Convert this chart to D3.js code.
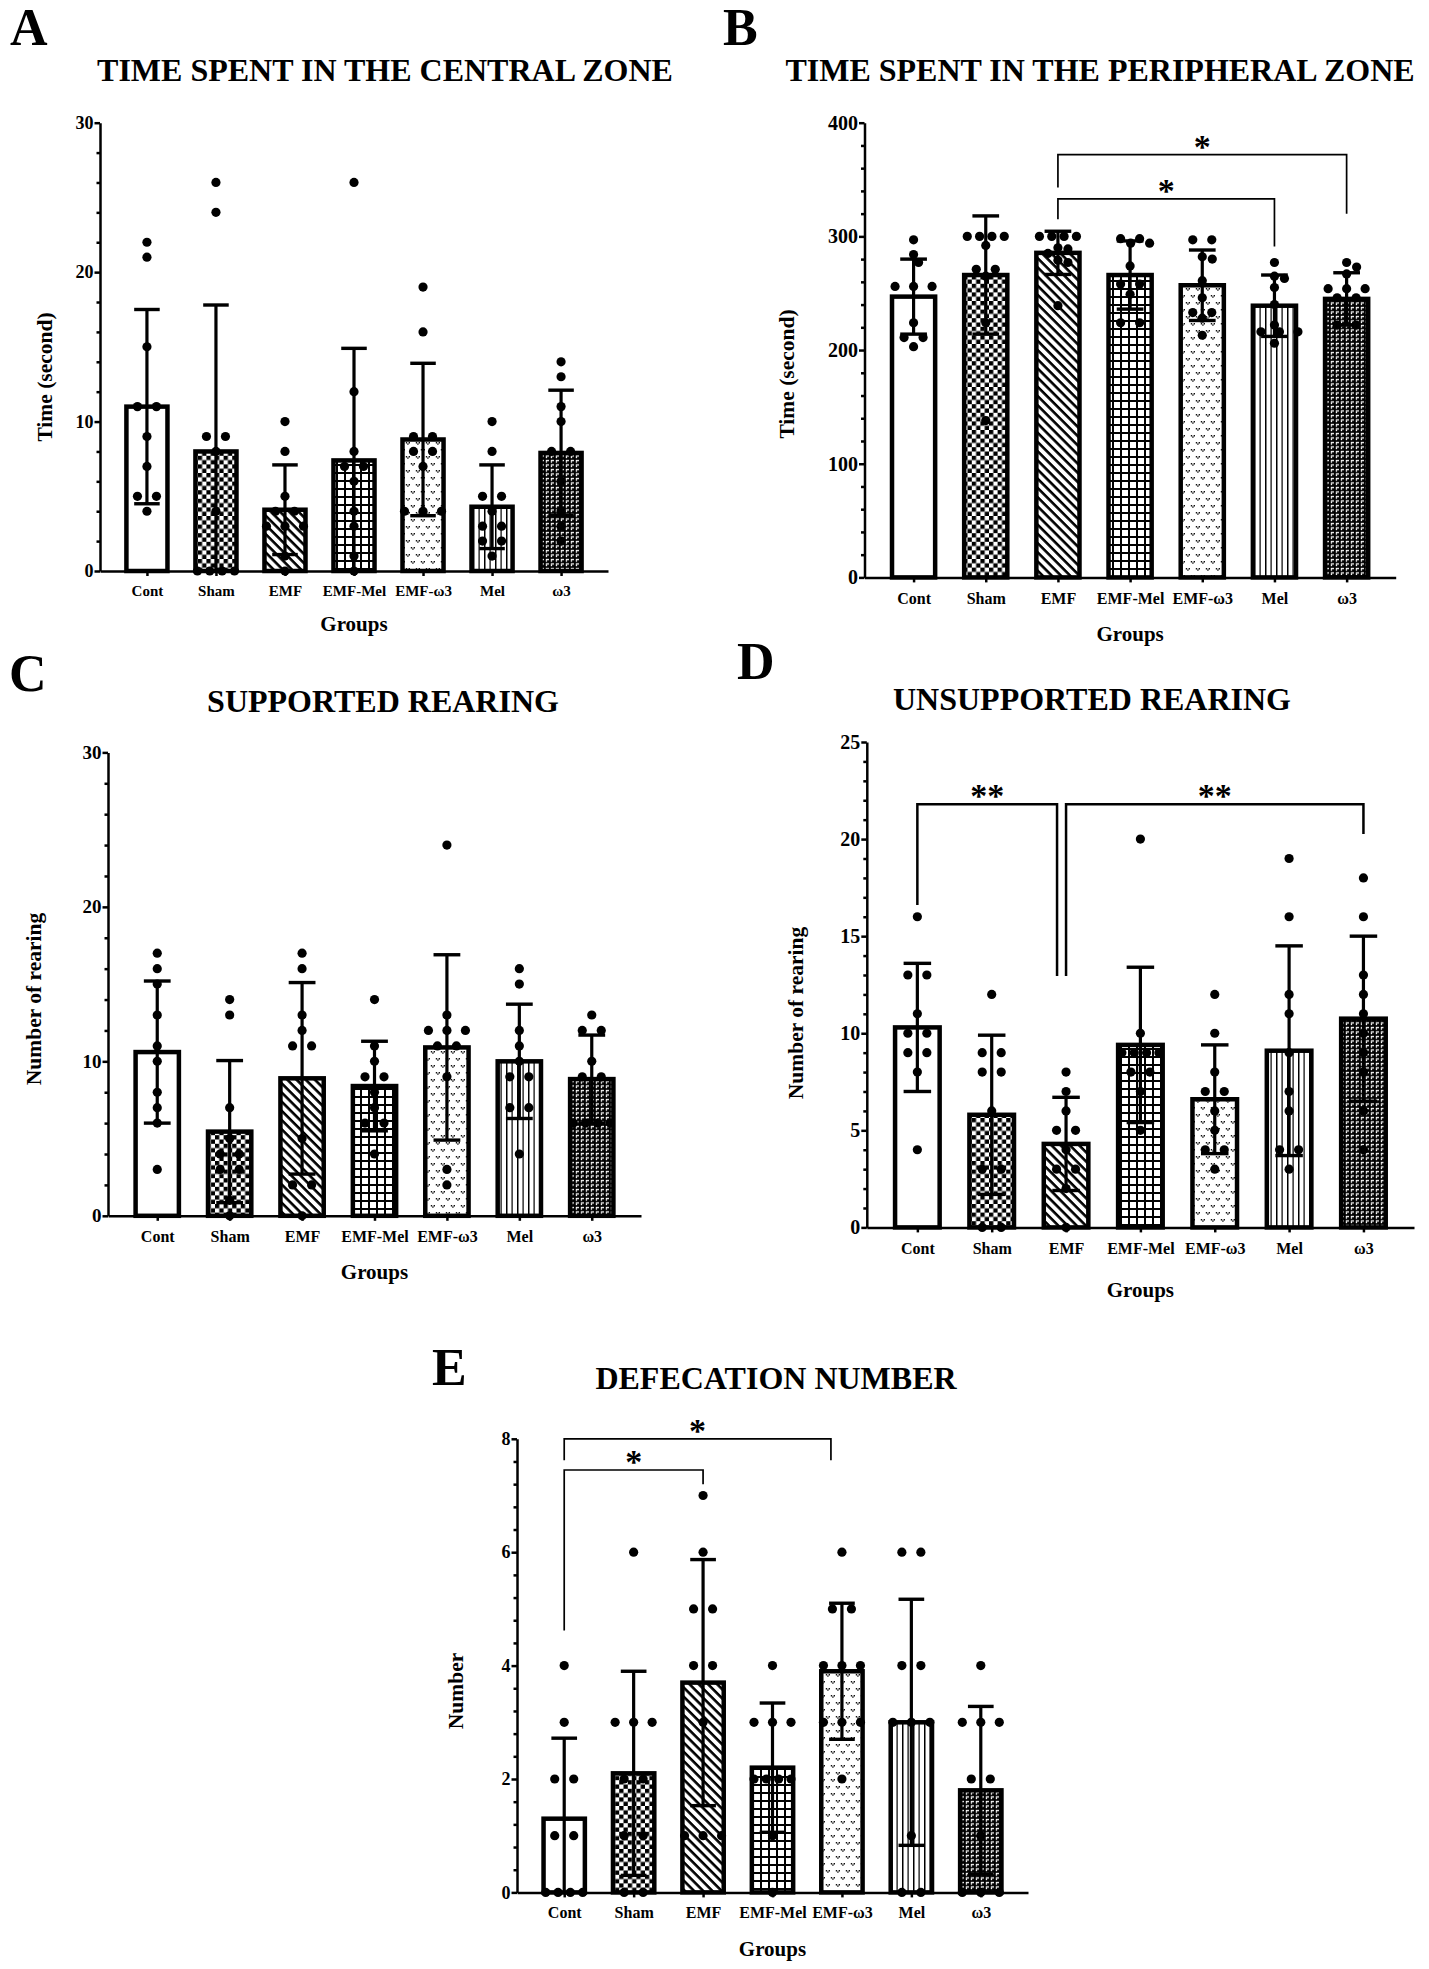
<!DOCTYPE html>
<html>
<head>
<meta charset="utf-8">
<script src="https://cdnjs.cloudflare.com/ajax/libs/d3/7.8.5/d3.min.js"></script>
<style>
  body { margin: 0; background: #fff; }
  text { font-family: "Liberation Serif", "Times New Roman", serif; font-weight: bold; fill: #000; }
</style>
</head>
<body>
<div id="chart-area"></div>
<script>
// groups on every x axis
const groups = ['Cont', 'Sham', 'EMF', 'EMF-Mel', 'EMF-ω3', 'Mel', 'ω3'];

// A - time in central zone
const centralMean = [11.0, 8.0, 4.1, 7.4, 8.8, 4.3, 7.9];
const centralSD = [6.5, 9.8, 3.0, 7.5, 5.1, 2.8, 4.2];
const centralPoints = [
  [22, 21, 15, 11, 11, 9, 7, 5, 5, 4],
  [26, 24, 9, 9, 8, 4, 0, 0, 0, 0],
  [10, 8, 5, 4, 4, 3, 3, 3, 1, 0],
  [26, 12, 8, 7, 7, 6, 4, 3, 1, 0],
  [19, 16, 9, 9, 8, 8, 7, 4, 4, 4],
  [10, 8, 5, 5, 4, 3, 3, 2, 2, 1],
  [14, 13, 11, 10, 8, 8, 6, 4, 3, 2]
];

// B - time in peripheral zone
const periMean = [247, 266, 285.5, 266, 257, 239, 245];
const periSD = [33, 52, 19, 30, 31, 27, 23];
const periPoints = [
  [297, 284, 277, 256, 256, 256, 224, 211, 211, 203],
  [300, 300, 300, 300, 292, 271, 271, 265, 224, 138],
  [300, 300, 300, 300, 290, 289, 285, 279, 277, 239],
  [298, 298, 294, 294, 274, 258, 258, 249, 224, 224],
  [297, 297, 282, 280, 261, 246, 233, 233, 228, 213],
  [277, 265, 263, 255, 240, 222, 216, 216, 216, 206],
  [277, 273, 267, 254, 254, 254, 246, 246, 222, 222]
];
const periSig = [
  {from: 'EMF', to: 'Mel', y: 333, yFrom: 315, yTo: 291, label: '*'},
  {from: 'EMF', to: 'ω3', y: 372, yFrom: 343, yTo: 320, label: '*'}
];

// C - supported rearing
const supMean = [10.6, 5.45, 8.9, 8.4, 10.9, 10.0, 8.85];
const supSD = [4.6, 4.6, 6.2, 2.9, 6.0, 3.7, 2.85];
const supPoints = [
  [17, 16, 15, 13, 11, 10, 8, 7, 6, 3],
  [14, 13, 7, 5, 4, 4, 3, 3, 1, 0],
  [17, 16, 13, 12, 11, 11, 5, 2, 2, 0],
  [14, 11, 10, 9, 9, 8, 7, 6, 6, 4],
  [24, 13, 12, 12, 12, 11, 11, 9, 3, 2],
  [16, 15, 12, 11, 10, 9, 9, 7, 7, 4],
  [13, 12, 12, 10, 9, 9, 6, 6, 6, 6]
];

// D - unsupported rearing
const unsupMean = [10.3, 5.8, 4.3, 9.4, 6.6, 9.1, 10.75];
const unsupSD = [3.3, 4.1, 2.4, 4.0, 2.8, 5.4, 4.25];
const unsupPoints = [
  [16, 13, 13, 11, 10, 10, 9, 9, 8, 4],
  [12, 9, 9, 8, 8, 6, 3, 3, 0, 0],
  [8, 7, 6, 5, 5, 4, 3, 3, 2, 0],
  [20, 10, 9, 9, 9, 9, 8, 8, 7, 5],
  [12, 10, 8, 7, 7, 6, 5, 4, 4, 3],
  [19, 16, 12, 11, 9, 7, 6, 4, 4, 3],
  [18, 16, 13, 12, 11, 10, 9, 8, 6, 4]
];
const unsupSig = [
  {from: 'Cont', to: 'EMF', y: 21.8, yFrom: 16.6, yTo: 12.95, label: '**', dxTo: -9},
  {from: 'EMF', to: 'ω3', y: 21.8, yFrom: 12.95, yTo: 20.26, label: '**'}
];

// E - defecation number
const defMean = [1.3, 2.1, 3.7, 2.2, 3.9, 3.0, 1.8];
const defSD = [1.42, 1.8, 2.17, 1.14, 1.2, 2.17, 1.48];
const defPoints = [
  [4, 3, 2, 2, 1, 1, 0, 0, 0, 0],
  [6, 3, 3, 3, 2, 2, 1, 1, 0, 0],
  [7, 6, 5, 5, 4, 4, 3, 1, 1, 1],
  [4, 3, 3, 3, 2, 2, 2, 2, 1, 0],
  [6, 5, 5, 4, 4, 4, 3, 3, 3, 2],
  [6, 6, 4, 4, 3, 3, 3, 1, 0, 0],
  [4, 3, 3, 3, 2, 2, 1, 0, 0, 0]
];
const defSig = [
  {from: 'Cont', to: 'EMF', y: 7.45, yFrom: 4.62, yTo: 7.2, label: '*'},
  {from: 'Cont', to: 'EMF-ω3', y: 8.0, yFrom: 7.62, yTo: 7.62, label: '*', dxTo: -11}
];

// panel setup (layout only)
const panels = [
  {letter: 'A', title: 'TIME SPENT IN THE CENTRAL ZONE', yLabel: 'Time (second)',
   mean: centralMean, sd: centralSD, points: centralPoints, sig: [],
   max: 30, major: 10, minor: 2,
   box: {x0: 100, x1: 608, y0: 571, y1: 122.7, lx: 10, ly: 45, tx: 385, ty: 81,
         ylx: 52, yly: 377, tickY: 596, groupsY: 631, tickFont: 18, xFont: 15, sigW: 1.7}},
  {letter: 'B', title: 'TIME SPENT IN THE PERIPHERAL ZONE', yLabel: 'Time (second)',
   mean: periMean, sd: periSD, points: periPoints, sig: periSig,
   max: 400, major: 100, minor: 20,
   box: {x0: 864.5, x1: 1395.7, y0: 577.4, y1: 122.7, lx: 723, ly: 45, tx: 1100, ty: 81,
         ylx: 794, yly: 374, tickY: 604, groupsY: 641, tickFont: 20, xFont: 16, sigW: 1.7}},
  {letter: 'C', title: 'SUPPORTED REARING', yLabel: 'Number of rearing',
   mean: supMean, sd: supSD, points: supPoints, sig: [],
   max: 30, major: 10, minor: 2,
   box: {x0: 108, x1: 641, y0: 1215.8, y1: 752.4, lx: 9, ly: 691, tx: 383, ty: 712,
         ylx: 41, yly: 999, tickY: 1242, groupsY: 1279, tickFont: 19, xFont: 16, sigW: 1.7}},
  {letter: 'D', title: 'UNSUPPORTED REARING', yLabel: 'Number of rearing',
   mean: unsupMean, sd: unsupSD, points: unsupPoints, sig: unsupSig,
   max: 25, major: 5, minor: 1,
   box: {x0: 866.8, x1: 1414, y0: 1227.4, y1: 742, lx: 737, ly: 679, tx: 1092, ty: 710,
         ylx: 803, yly: 1013, tickY: 1254, groupsY: 1297, tickFont: 20, xFont: 16, sigW: 2.5}},
  {letter: 'E', title: 'DEFECATION NUMBER', yLabel: 'Number',
   mean: defMean, sd: defSD, points: defPoints, sig: defSig,
   max: 8, major: 2, minor: 0.4,
   box: {x0: 517, x1: 1028, y0: 1892.4, y1: 1438.8, lx: 432, ly: 1385, tx: 776, ty: 1389,
         ylx: 463, yly: 1691, tickY: 1918, groupsY: 1956, tickFont: 18, xFont: 16, sigW: 1.7}}
];

const svg = d3.select('#chart-area')
  .append('svg')
  .attr('width', 1429)
  .attr('height', 1969)
  .style('display', 'block');

svg.append('rect').attr('width', 1429).attr('height', 1969).attr('fill', '#fff');

// fill patterns for each group
const defs = svg.append('defs');

function addPattern(id, w, h, draw, transform) {
  const p = defs.append('pattern')
    .attr('id', id)
    .attr('patternUnits', 'userSpaceOnUse')
    .attr('width', w)
    .attr('height', h);
  if (transform) p.attr('patternTransform', transform);
  p.append('rect').attr('width', w).attr('height', h).attr('fill', '#fff');
  draw(p);
}

addPattern('checker', 8.6, 8.6, p => {
  p.append('rect').attr('width', 4.3).attr('height', 4.3).attr('fill', '#000');
  p.append('rect').attr('x', 4.3).attr('y', 4.3).attr('width', 4.3).attr('height', 4.3).attr('fill', '#000');
});
addPattern('diag', 6.5, 6.5, p => {
  p.append('rect').attr('width', 6.5).attr('height', 2.6).attr('fill', '#000');
}, 'rotate(45)');
addPattern('grid', 8, 8, p => {
  p.append('rect').attr('width', 8).attr('height', 2).attr('fill', '#000');
  p.append('rect').attr('width', 2).attr('height', 8).attr('fill', '#000');
});
addPattern('chev', 10, 14, p => {
  [[0.8, 1], [5.8, 8]].forEach(([cx, cy]) => {
    p.append('path')
      .attr('d', `M${cx},${cy}h1.4v1.4h-1.4z M${cx + 2.8},${cy}h1.4v1.4h-1.4z M${cx + 1.4},${cy + 1.4}h1.4v1.4h-1.4z`)
      .attr('fill', '#111');
  });
});
addPattern('vlines', 11, 10, p => {
  p.append('rect').attr('x', 0).attr('width', 1.5).attr('height', 10).attr('fill', '#000');
  p.append('rect').attr('x', 5.5).attr('width', 1.2).attr('height', 10).attr('fill', '#000');
});
addPattern('brick', 5, 4.5, p => {
  p.select('rect').attr('fill', '#000');
  p.append('rect').attr('x', 0.8).attr('y', 0.8).attr('width', 3.2).attr('height', 1.3).attr('fill', '#fff');
  p.append('rect').attr('x', 0.8).attr('y', 2.1).attr('width', 1.3).attr('height', 1.6).attr('fill', '#fff');
});

const fills = ['#fff', 'url(#checker)', 'url(#diag)', 'url(#grid)', 'url(#chev)', 'url(#vlines)', 'url(#brick)'];

// spread points with equal values side by side, shift rows that would overlap
function swarm(vals, y, r) {
  const placed = [];
  const uniq = Array.from(new Set(vals)).sort((a, b) => b - a);
  uniq.forEach(v => {
    const k = vals.filter(d => d === v).length;
    const py = y(v);
    const d = k > 1 ? Math.min(19, 37 / (k - 1)) : 0;
    let best = null;
    for (let s = 0; s < 9 && !best; s++) {
      const shift = (s % 2 ? 1 : -1) * Math.ceil(s / 2) * 5;
      const xs = d3.range(k).map(i => (i - (k - 1) / 2) * d + shift);
      const ok = xs.every(x => placed.every(q => Math.hypot(q.x - x, q.y - py) >= 2 * r - 1));
      if (ok) best = xs;
    }
    if (!best) best = d3.range(k).map(i => (i - (k - 1) / 2) * d);
    best.forEach(x => placed.push({x: x, y: py}));
  });
  return placed;
}

function drawPanel(p) {
  const b = p.box;
  const g = svg.append('g');

  const x = d3.scalePoint()
    .domain(groups)
    .range([b.x0, b.x1])
    .padding(0.68);
  const y = d3.scaleLinear()
    .domain([0, p.max])
    .range([b.y0, b.y1]);

  const step = x.step();
  const barW = step * 0.66 - 4.5;
  const capW = step * 0.37;

  // panel letter and title
  g.append('text')
    .attr('x', b.lx).attr('y', b.ly)
    .attr('font-size', '52px')
    .text(p.letter);
  g.append('text')
    .attr('x', b.tx).attr('y', b.ty)
    .attr('font-size', '32px')
    .attr('text-anchor', 'middle')
    .text(p.title);

  // bars
  g.selectAll('rect.bar').data(groups).enter()
    .append('rect')
    .attr('class', 'bar')
    .attr('x', d => x(d) - barW / 2)
    .attr('y', (d, i) => y(p.mean[i]))
    .attr('width', barW)
    .attr('height', (d, i) => y(0) - y(p.mean[i]))
    .attr('fill', (d, i) => fills[i])
    .attr('stroke', '#000')
    .attr('stroke-width', 4.5);

  // points
  groups.forEach((grp, i) => {
    const pts = swarm(p.points[i], y, 4.6);
    g.selectAll(null).data(pts).enter()
      .append('circle')
      .attr('cx', d => x(grp) + d.x)
      .attr('cy', d => d.y)
      .attr('r', 4.6)
      .attr('fill', '#000');
  });

  // error bars (SD)
  groups.forEach((grp, i) => {
    const lo = p.mean[i] - p.sd[i];
    const hi = p.mean[i] + p.sd[i];
    const cx = x(grp);
    g.append('line')
      .attr('x1', cx).attr('x2', cx)
      .attr('y1', y(Math.max(0, lo))).attr('y2', y(hi))
      .attr('stroke', '#000').attr('stroke-width', 3.2);
    const caps = lo > 0 ? [hi, lo] : [hi];
    caps.forEach(v => {
      g.append('line')
        .attr('x1', cx - capW / 2).attr('x2', cx + capW / 2)
        .attr('y1', y(v)).attr('y2', y(v))
        .attr('stroke', '#000').attr('stroke-width', 3.4);
    });
  });

  // y axis, major and minor ticks
  const majors = d3.range(0, p.max + 1e-9, p.major);
  const minors = d3.range(0, p.max + 1e-9, p.minor).filter(v => majors.every(m => Math.abs(m - v) > 1e-6));
  const yAxis = g.append('g')
    .attr('transform', `translate(${b.x0}, 0)`)
    .call(d3.axisLeft(y).tickValues(majors).tickSize(5.5).tickSizeOuter(0).tickPadding(1).tickFormat(d3.format('d')));
  g.append('g')
    .attr('transform', `translate(${b.x0}, 0)`)
    .call(d3.axisLeft(y).tickValues(minors).tickSize(3.5).tickSizeOuter(0).tickFormat(''))
    .call(a => a.select('.domain').remove());
  yAxis.selectAll('text')
    .attr('font-size', b.tickFont + 'px')
    .attr('font-family', '"Liberation Serif", serif');

  // x axis
  const xFont = b.xFont;
  const xAxis = g.append('g')
    .attr('transform', `translate(0, ${b.y0})`)
    .call(d3.axisBottom(x).tickSize(5).tickSizeOuter(0).tickPadding(b.tickY - b.y0 - 5 - 0.71 * xFont));
  xAxis.selectAll('text')
    .attr('font-size', xFont + 'px')
    .attr('font-family', '"Liberation Serif", serif');

  g.selectAll('.domain, .tick line')
    .attr('stroke', '#000')
    .attr('stroke-width', 2.5);

  // axis titles
  g.append('text')
    .attr('x', (b.x0 + b.x1) / 2)
    .attr('y', b.groupsY)
    .attr('font-size', '21px')
    .attr('text-anchor', 'middle')
    .text('Groups');
  g.append('text')
    .attr('transform', `translate(${b.ylx}, ${b.yly}) rotate(-90)`)
    .attr('font-size', '21.5px')
    .attr('text-anchor', 'middle')
    .text(p.yLabel);

  // significance brackets
  p.sig.forEach(s => {
    const xa = x(s.from) + (s.dxFrom || 0);
    const xb = x(s.to) + (s.dxTo || 0);
    g.append('path')
      .attr('d', `M${xa},${y(s.yFrom)}V${y(s.y)}H${xb}V${y(s.yTo)}`)
      .attr('fill', 'none')
      .attr('stroke', '#000')
      .attr('stroke-width', b.sigW);
    g.append('text')
      .attr('x', (xa + xb) / 2)
      .attr('y', y(s.y) - 13 + 0.47 * 34)
      .attr('font-size', '34px')
      .attr('text-anchor', 'middle')
      .text(s.label);
  });
}

panels.forEach(drawPanel);
</script>
</body>
</html>
